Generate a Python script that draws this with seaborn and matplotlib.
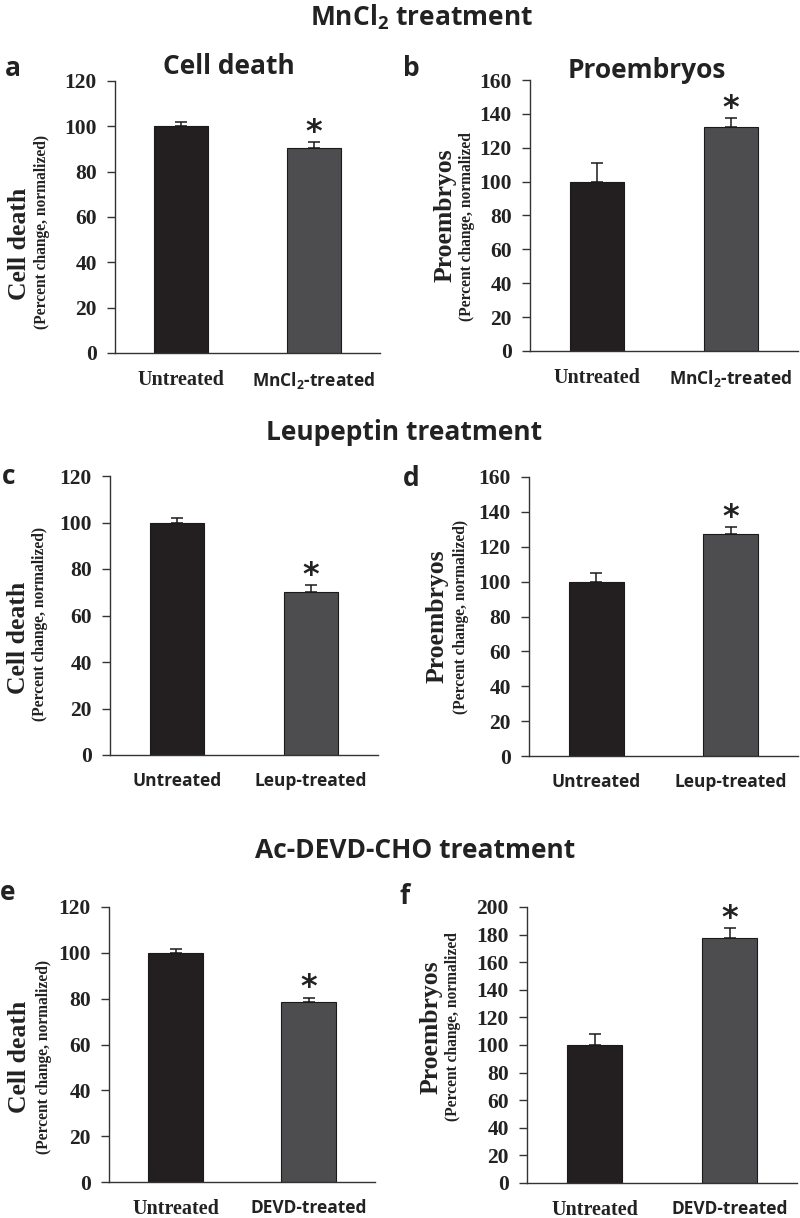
import matplotlib
matplotlib.use("Agg")
import matplotlib.pyplot as plt
from matplotlib.font_manager import FontProperties
import seaborn as sns
import pandas as pd
import numpy as np

sns.set_style("white")
plt.rcParams['font.family'] = ['Liberation Serif', 'DejaVu Sans']
plt.rcParams['mathtext.fontset'] = 'custom'
plt.rcParams['mathtext.rm'] = 'Open Sans:bold'
plt.rcParams['mathtext.bf'] = 'Open Sans:bold'
plt.rcParams['mathtext.it'] = 'Open Sans:bold'

# ---------------- data ----------------
untreated_label = "Untreated"
treated_labels = ["MnCl$_2$-treated", "Leup-treated", "DEVD-treated"]
group_titles = ["MnCl$_2$ treatment", "Leupeptin treatment", "Ac-DEVD-CHO treatment"]

cell_death_mn = [100, 90.5]
cell_death_mn_err = [1.8, 2.4]
proembryos_mn = [100, 132]
proembryos_mn_err = [11, 5.3]

cell_death_leup = [100, 70]
cell_death_leup_err = [1.8, 3.1]
proembryos_leup = [100, 127.5]
proembryos_leup_err = [5, 3.7]

cell_death_devd = [100, 78.5]
cell_death_devd_err = [1.6, 2]
proembryos_devd = [100, 177.5]
proembryos_devd_err = [8, 7.3]

significant = [False, True]

cell_death_ticks = [0, 20, 40, 60, 80, 100, 120]
proemb_ticks_160 = [0, 20, 40, 60, 80, 100, 120, 140, 160]
proemb_ticks_200 = [0, 20, 40, 60, 80, 100, 120, 140, 160, 180, 200]

panel_letters = ["a", "b", "c", "d", "e", "f"]
panel_titles = ["Cell death", "Proembryos", None, None, None, None]
ylab_main = ["Cell death", "Proembryos"] * 3
ylab_sub = ["(Percent change, normalized)", "(Percent change, normalized",
            "(Percent change, normalized)", "(Percent change, normalized)",
            "(Percent change, normalized)", "(Percent change, normalized"]

# ---------------- style ----------------
W, H = 800, 1218
fig = plt.figure(figsize=(W / 100, H / 100), dpi=100)

c_untreated = "#231f20"
c_treated = "#4d4d4f"
axis_col = "#333333"
text_col = "#222222"

serif_tick = FontProperties(family="Liberation Serif", weight="bold", size=15.5)
serif_cat = FontProperties(family="Liberation Serif", weight="bold", size=14.5)
sans_bold_tick = FontProperties(family="Open Sans", weight="bold", size=12.5)
title_font = dict(family="Open Sans", weight="bold", size=19)


def px_rect(l, t, r, b):
    return [l / W, 1 - b / H, (r - l) / W, (b - t) / H]


panels = [
    dict(rect=px_rect(115, 81, 380, 353), vals=cell_death_mn, err=cell_death_mn_err,
         ticks=cell_death_ticks, tlab=treated_labels[0], untreated_serif=True,
         ymain=(-0.36, 0.40), ysub=(-0.275, 0.445), letter=(5, 68), title_px=(229, 67)),
    dict(rect=px_rect(530, 80, 798, 351), vals=proembryos_mn, err=proembryos_mn_err,
         ticks=proemb_ticks_160, tlab=treated_labels[0], untreated_serif=True,
         ymain=(-0.317, 0.50), ysub=(-0.235, 0.46), letter=(403, 68), title_px=(647, 71)),
    dict(rect=px_rect(110, 476, 378, 755), vals=cell_death_leup, err=cell_death_leup_err,
         ticks=cell_death_ticks, tlab=treated_labels[1], untreated_serif=False,
         ymain=(-0.34, 0.42), ysub=(-0.26, 0.47), letter=(2, 477), title_px=None),
    dict(rect=px_rect(529, 477, 798, 756), vals=proembryos_leup, err=proembryos_leup_err,
         ticks=proemb_ticks_160, tlab=treated_labels[1], untreated_serif=False,
         ymain=(-0.342, 0.50), ysub=(-0.253, 0.50), letter=(403, 478), title_px=None),
    dict(rect=px_rect(109, 907, 375, 1182), vals=cell_death_devd, err=cell_death_devd_err,
         ticks=cell_death_ticks, tlab=treated_labels[2], untreated_serif=True,
         ymain=(-0.335, 0.455), ysub=(-0.245, 0.455), letter=(0, 892), title_px=None),
    dict(rect=px_rect(527, 907, 797, 1183), vals=proembryos_devd, err=proembryos_devd_err,
         ticks=proemb_ticks_200, tlab=treated_labels[2], untreated_serif=True,
         ymain=(-0.356, 0.565), ysub=(-0.274, 0.565), letter=(400, 896), title_px=None),
]

for i, p in enumerate(panels):
    ax = fig.add_axes(p["rect"])
    cats = [untreated_label, p["tlab"]]
    df = pd.DataFrame({"group": cats, "value": p["vals"]})
    sns.barplot(data=df, x="group", y="value", hue="group",
                palette={cats[0]: c_untreated, cats[1]: c_treated},
                width=0.41, legend=False, errorbar=None, ax=ax,
                edgecolor="#1a1a1a", linewidth=0.8, saturation=1)
    xs = np.arange(len(cats))
    vals = np.array(p["vals"])
    errs = np.array(p["err"])
    ax.errorbar(xs, vals, yerr=[np.zeros_like(errs), errs], fmt="none",
                ecolor="#1a1a1a", elinewidth=1.1, capsize=4, capthick=1.1)
    for x, v, e, s in zip(xs, vals, errs, significant):
        if s:
            ax.annotate("*", xy=(x, v + e), xytext=(0, -4), textcoords="offset points",
                        ha="center", va="bottom", fontsize=23,
                        family="DejaVu Sans", weight="bold", color=text_col)

    ax.set_ylim(p["ticks"][0], p["ticks"][-1])
    ax.set_xlim(-0.5, 1.5)
    ax.set_yticks(p["ticks"])
    ax.set_yticklabels([str(t) for t in p["ticks"]])
    for lab in ax.get_yticklabels():
        lab.set_fontproperties(serif_tick)
        lab.set_color(text_col)

    ax.set_xticks(xs)
    ax.set_xticklabels(cats)
    xl = ax.get_xticklabels()
    xl[0].set_fontproperties(serif_cat if p["untreated_serif"] else sans_bold_tick)
    xl[1].set_fontproperties(sans_bold_tick)
    for lab in xl:
        lab.set_color(text_col)
    ax.set_xticks([-0.5, 0.5, 1.5], minor=True)
    ax.tick_params(axis="x", which="major", length=0, pad=12)
    ax.tick_params(axis="x", which="minor", length=6, width=1, color=axis_col, direction="out")
    ax.tick_params(axis="y", length=6, width=1, color=axis_col, direction="out", pad=7, left=True)

    ax.set_xlabel("")
    ax.set_ylabel("")
    sns.despine(ax=ax)
    for sp in ["left", "bottom"]:
        ax.spines[sp].set_color(axis_col)
        ax.spines[sp].set_linewidth(1)

    ax.text(p["ymain"][0], p["ymain"][1], ylab_main[i], transform=ax.transAxes,
            rotation=90, ha="center", va="center", family="Liberation Serif",
            weight="bold", fontsize=18.5, color=text_col)
    ax.text(p["ysub"][0], p["ysub"][1], ylab_sub[i], transform=ax.transAxes,
            rotation=90, ha="center", va="center", family="Liberation Serif",
            weight="bold", fontsize=11.2, color=text_col)

    if panel_titles[i]:
        tx, ty = p["title_px"]
        fig.text(tx / W, 1 - ty / H, panel_titles[i], ha="center", va="center",
                 color=text_col, **title_font)

    lx, ly = p["letter"]
    fig.text(lx / W, 1 - ly / H, panel_letters[i], ha="left", va="center",
             color=text_col, **title_font)

# group titles
for t, yc, xc in zip(group_titles, [17, 433, 851], [422, 404, 415]):
    fig.text(xc / W, 1 - yc / H, t, ha="center", va="center", color=text_col,
             **title_font)

fig.savefig("out.png", dpi=100)
